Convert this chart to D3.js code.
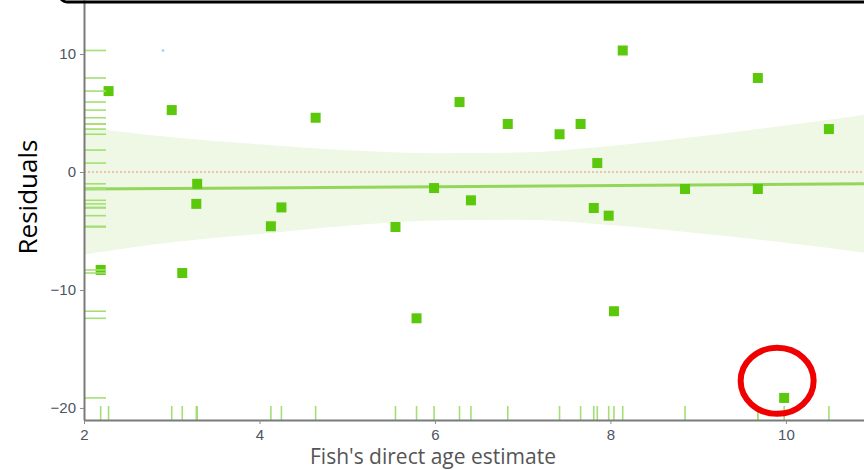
<!DOCTYPE html>
<html>
<head>
<meta charset="utf-8">
<script src="https://cdn.jsdelivr.net/npm/d3@7"></script>
<style>
  body { margin: 0; background: #fff; }
  svg { display: block; }
</style>
</head>
<body>
<svg id="chart"></svg>
<script>
// fish direct age vs. model residuals
const ageX = [2.28, 3.00, 3.29, 3.28, 3.12, 2.19, 4.64, 4.13, 4.25, 5.55, 5.79, 5.99, 6.28, 6.41,
  6.83, 7.42, 7.66, 7.85, 7.81, 7.98, 8.04, 8.14, 8.85, 9.68, 9.68, 9.98, 10.49, 11.3];
const residuals = [6.86, 5.25, -1.0, -2.7, -8.56, -8.3, 4.6, -4.6, -3.0, -4.66, -12.4, -1.36, 5.93, -2.4,
  4.07, 3.2, 4.07, 0.76, -3.05, -3.7, -11.8, 10.3, -1.44, 7.97, -1.44, -19.15, 3.64, 1.86];

// smoother fit and its confidence band
const bandX = [2, 3, 4, 5, 6, 7, 8, 9, 10, 10.9];
const bandLow = [-7.0, -5.95, -5.25, -4.55, -4.1, -4.05, -4.5, -5.2, -6.0, -6.85];
const bandHigh = [3.8, 2.95, 2.35, 1.85, 1.6, 1.65, 2.2, 3.0, 3.95, 4.85];
const fitX = [2, 10.9];
const fitY = [-1.45, -1.0];

const xTicks = [2, 4, 6, 8, 10];
const yTicks = [-20, -10, 0, 10];
const flagged = [9.9, -17.7]; // the circled outlier
const strayDot = [2.9, 10.3];

const W = 864, H = 470;
const m = { left: 84, right: 864, top: 0, bottom: 420 };

const svg = d3.select('#chart')
  .attr('width', W)
  .attr('height', H)
  .style('font-family', '"Liberation Sans", Arial, sans-serif');

const x = d3.scaleLinear().domain([2, 10.89]).range([m.left, m.right]);
const y = d3.scaleLinear().domain([-21.02, 14.58]).range([m.bottom, m.top]);

svg.append('clipPath').attr('id', 'plot')
  .append('rect')
  .attr('x', m.left).attr('y', m.top)
  .attr('width', m.right - m.left).attr('height', m.bottom - m.top);

const plot = svg.append('g').attr('clip-path', 'url(#plot)');

const band = bandX.map((d, i) => ({ x: d, lo: bandLow[i], hi: bandHigh[i] }));
plot.append('path')
  .datum(band)
  .attr('fill', '#eef8e4')
  .attr('d', d3.area()
    .curve(d3.curveMonotoneX)
    .x(d => x(d.x))
    .y0(d => y(d.lo))
    .y1(d => y(d.hi)));

// zero reference
plot.append('line')
  .attr('x1', m.left).attr('x2', m.right)
  .attr('y1', y(0)).attr('y2', y(0))
  .attr('stroke', '#ee8a7e')
  .attr('stroke-width', 1)
  .attr('stroke-dasharray', '2,2');

plot.append('path')
  .datum(fitX.map((d, i) => [d, fitY[i]]))
  .attr('fill', 'none')
  .attr('stroke', '#93d65a')
  .attr('stroke-width', 3)
  .attr('d', d3.line().x(d => x(d[0])).y(d => y(d[1])));

const pts = ageX.map((d, i) => ({ x: d, y: residuals[i] }));

// rugs
plot.selectAll('.rugx')
  .data(pts)
  .enter().append('line')
  .attr('class', 'rugx')
  .attr('x1', d => x(d.x)).attr('x2', d => x(d.x))
  .attr('y1', m.bottom - 14).attr('y2', m.bottom)
  .attr('stroke', '#a3df74')
  .attr('stroke-width', 1.6);

svg.selectAll('.rugy')
  .data(pts)
  .enter().append('line')
  .attr('class', 'rugy')
  .attr('x1', m.left).attr('x2', m.left + 22)
  .attr('y1', d => y(d.y)).attr('y2', d => y(d.y))
  .attr('stroke', '#a3df74')
  .attr('stroke-width', 1.6);

plot.selectAll('.pt')
  .data(pts)
  .enter().append('rect')
  .attr('class', 'pt')
  .attr('x', d => x(d.x) - 5)
  .attr('y', d => y(d.y) - 5)
  .attr('width', 10)
  .attr('height', 10)
  .attr('fill', '#5cc80c');

svg.append('circle')
  .attr('cx', x(strayDot[0])).attr('cy', y(strayDot[1]))
  .attr('r', 1.3)
  .attr('fill', '#a9c6ee');

// axes
const yAxis = svg.append('g')
  .attr('transform', `translate(${m.left},0)`)
  .call(d3.axisLeft(y).tickValues(yTicks).tickSize(4).tickSizeOuter(0).tickPadding(4));

const xAxis = svg.append('g')
  .attr('transform', `translate(0,${m.bottom})`)
  .call(d3.axisBottom(x).tickValues(xTicks).tickSize(4).tickSizeOuter(0).tickPadding(5));

[yAxis, xAxis].forEach(g => {
  g.select('.domain').attr('stroke', '#7a7a7a').attr('stroke-width', 2);
  g.selectAll('.tick line').attr('stroke', '#8a8a8a');
  g.selectAll('.tick text')
    .attr('fill', '#4d5463')
    .attr('font-size', 15)
    .attr('font-family', '"Liberation Sans", Arial, sans-serif');
});

svg.append('text')
  .attr('transform', `translate(37,${197}) rotate(-90)`)
  .attr('text-anchor', 'middle')
  .attr('font-family', '"Open Sans", sans-serif')
  .attr('font-size', 26)
  .attr('fill', '#000')
  .text('Residuals');

svg.append('text')
  .attr('x', 433)
  .attr('y', 464)
  .attr('text-anchor', 'middle')
  .attr('font-family', '"Open Sans", sans-serif')
  .attr('font-size', 21)
  .attr('fill', '#555')
  .text("Fish's direct age estimate");

// red annotation ring around the outlier
svg.append('ellipse')
  .attr('cx', x(flagged[0])).attr('cy', y(flagged[1]))
  .attr('rx', 36.5).attr('ry', 33)
  .attr('fill', 'none')
  .attr('stroke', '#f00000')
  .attr('stroke-width', 6);

// edge of the frame above
svg.append('rect')
  .attr('x', 60).attr('y', -30)
  .attr('width', 840).attr('height', 32)
  .attr('rx', 7)
  .attr('fill', 'none')
  .attr('stroke', '#000')
  .attr('stroke-width', 3);
</script>
</body>
</html>
